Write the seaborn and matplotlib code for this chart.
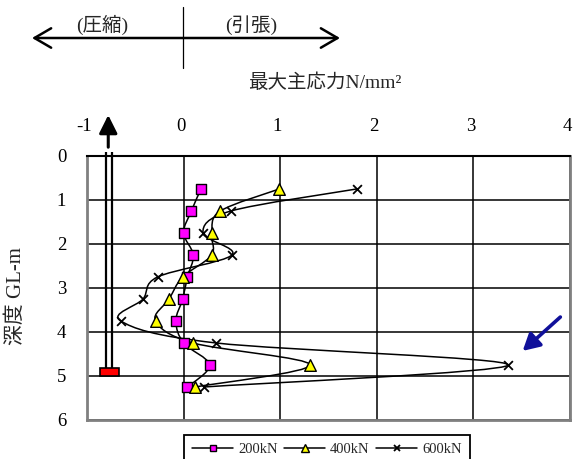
import numpy as np
import pandas as pd
import matplotlib
matplotlib.use("Agg")
import matplotlib.pyplot as plt
import matplotlib.transforms as mtransforms
import seaborn as sns
from matplotlib.path import Path
from matplotlib.patches import PathPatch, Rectangle, FancyArrowPatch, ArrowStyle
from matplotlib.lines import Line2D

# depth below ground level (m)
depth = [0.75, 1.25, 1.75, 2.25, 2.75, 3.25, 3.75, 4.25, 4.75, 5.25]
# maximum principal stress (N/mm2) for each load step
stress_200 = [0.18, 0.08, 0.00, 0.10, 0.04, -0.01, -0.08, 0.00, 0.27, 0.04]
stress_400 = [0.99, 0.38, 0.29, 0.29, -0.01, -0.15, -0.29, 0.10, 1.31, 0.12]
stress_600 = [1.79, 0.49, 0.20, 0.50, -0.27, -0.42, -0.65, 0.34, 3.36, 0.21]
load_labels = ["200kN", "400kN", "600kN"]
x_ticks = [-1, 0, 1, 2, 3, 4]
y_ticks = [0, 1, 2, 3, 4, 5, 6]

df = pd.DataFrame({
    "depth": depth * 3,
    "stress": stress_200 + stress_400 + stress_600,
    "load": np.repeat(load_labels, len(depth)),
})

sns.set_style("white")
plt.rcParams["font.family"] = ["Liberation Serif", "Noto Sans CJK JP"]

W, H = 573, 459
fig = plt.figure(figsize=(W / 100, H / 100), dpi=100)
ax = fig.add_axes([87 / W, 1 - 420 / H, (570 - 87) / W, (420 - 156) / H])


def smooth_path(xs, ys):
    """Cubic Bezier path through the points (Catmull-Rom style smoothing)."""
    P = np.column_stack([xs, ys]).astype(float)
    n = len(P)
    verts = [P[0]]
    codes = [Path.MOVETO]
    for i in range(n - 1):
        p0 = P[max(i - 1, 0)]
        p1 = P[i]
        p2 = P[i + 1]
        p3 = P[min(i + 2, n - 1)]
        c1 = p1 + (p2 - p0) / 6.0
        c2 = p2 - (p3 - p1) / 6.0
        verts += [c1, c2, p2]
        codes += [Path.CURVE4] * 3
    return Path(verts, codes)


styles = {
    "200kN": dict(marker="s", color="#ff00ff", s=48, edgecolor="black", linewidth=1.0),
    "400kN": dict(marker="^", color="#ffff00", s=70, edgecolor="black", linewidth=1.0),
    "600kN": dict(marker="x", color="black", s=40, linewidth=1.3),
}

for name in load_labels:
    sub = df[df["load"] == name]
    ax.add_patch(PathPatch(smooth_path(sub["stress"], sub["depth"]), fill=False,
                           edgecolor="black", linewidth=1.1, zorder=3))
    sns.scatterplot(data=sub, x="stress", y="depth", ax=ax, zorder=4,
                    legend=False, **styles[name])

ax.set_xlim(-1, 4)
ax.set_ylim(6, 0)
ax.set_xticks(x_ticks)
ax.set_yticks(y_ticks)
ax.set_xticklabels([str(t) for t in x_ticks])
ax.set_yticklabels([str(t) for t in y_ticks])
ax.xaxis.tick_top()
ax.tick_params(length=0, pad=15, labelsize=13.5, colors="black")
shift = mtransforms.ScaledTranslation(-3 / 100, 0, fig.dpi_scale_trans)
for lbl in ax.get_xticklabels():
    lbl.set_transform(lbl.get_transform() + shift)
ax.grid(True, color="black", linewidth=1.1)
ax.set_axisbelow(True)
for side in ["left", "right", "bottom"]:
    ax.spines[side].set_color("#808080")
    ax.spines[side].set_linewidth(2.0)
ax.spines["top"].set_color("black")
ax.spines["top"].set_linewidth(1.5)

# axis titles
ax.set_ylabel("深度 GL-m", fontsize=15)
ax.yaxis.set_label_coords((16 - 87) / 483, (420 - 296) / 264)
ax.yaxis.label.set_va("center")
ax.set_xlabel("最大主応力N/mm²", fontsize=14)
ax.xaxis.set_label_position("top")
ax.xaxis.set_label_coords((325 - 87) / 483, (420 - 83) / 264)
ax.xaxis.label.set_va("center")

# pile: double shaft, load arrow on top, toe plate
for px in (-0.80, -0.745):
    ax.plot([px, px], [-0.09, 4.81], color="black", linewidth=1.6,
            solid_capstyle="butt", clip_on=False, zorder=5)
ax.annotate("", xy=(-0.78, -0.93), xytext=(-0.78, -0.2), annotation_clip=False,
            arrowprops=dict(arrowstyle="-|>,head_length=1.1,head_width=0.55",
                            mutation_scale=10, color="black", lw=2.2,
                            shrinkA=0, shrinkB=0))
ax.add_patch(Rectangle((-0.87, 4.81), 0.20, 0.19, facecolor="#ff0000",
                       edgecolor="black", linewidth=1.2, zorder=6, clip_on=False))

# pointer to the peak tensile stress
ax.annotate("", xy=(3.51, 4.43), xytext=(3.90, 3.66),
            arrowprops=dict(arrowstyle="-|>,head_length=1.0,head_width=0.55",
                            mutation_scale=10, color="#10109a", lw=2.6,
                            shrinkA=0, shrinkB=0))

# compression / tension direction key
fig.add_artist(FancyArrowPatch(
    posA=(32 / W, 1 - 38 / H), posB=(340 / W, 1 - 38 / H),
    transform=fig.transFigure,
    arrowstyle=ArrowStyle("<->", head_length=12, head_width=7),
    mutation_scale=1, color="black", linewidth=1.8, shrinkA=0, shrinkB=0))
fig.add_artist(Line2D([183 / W, 183 / W], [1 - 7 / H, 1 - 68 / H],
                      transform=fig.transFigure, color="black", linewidth=0.9))
fig.text(102 / W, 1 - 25 / H, "(圧縮)", ha="center", va="center", fontsize=14)
fig.text(251 / W, 1 - 25 / H, "(引張)", ha="center", va="center", fontsize=14)

# legend
handles = [
    Line2D([], [], color="black", lw=1.1, marker="s", markersize=5,
           markerfacecolor="#ff00ff", markeredgecolor="black"),
    Line2D([], [], color="black", lw=1.1, marker="^", markersize=6,
           markerfacecolor="#ffff00", markeredgecolor="black"),
    Line2D([], [], color="black", lw=1.1, marker="x", markersize=4,
           markeredgewidth=1.3),
]
leg = fig.legend(handles, load_labels, loc="upper center",
                 bbox_to_anchor=(327 / W, 1 - 435 / H), ncol=3, frameon=True,
                 fancybox=False, edgecolor="black", framealpha=1,
                 fontsize=10.5, handlelength=2.8, handletextpad=0.35,
                 columnspacing=0.45, borderpad=0.55, borderaxespad=0)
leg.get_frame().set_linewidth(1.3)

fig.savefig("out.png", dpi=100)
